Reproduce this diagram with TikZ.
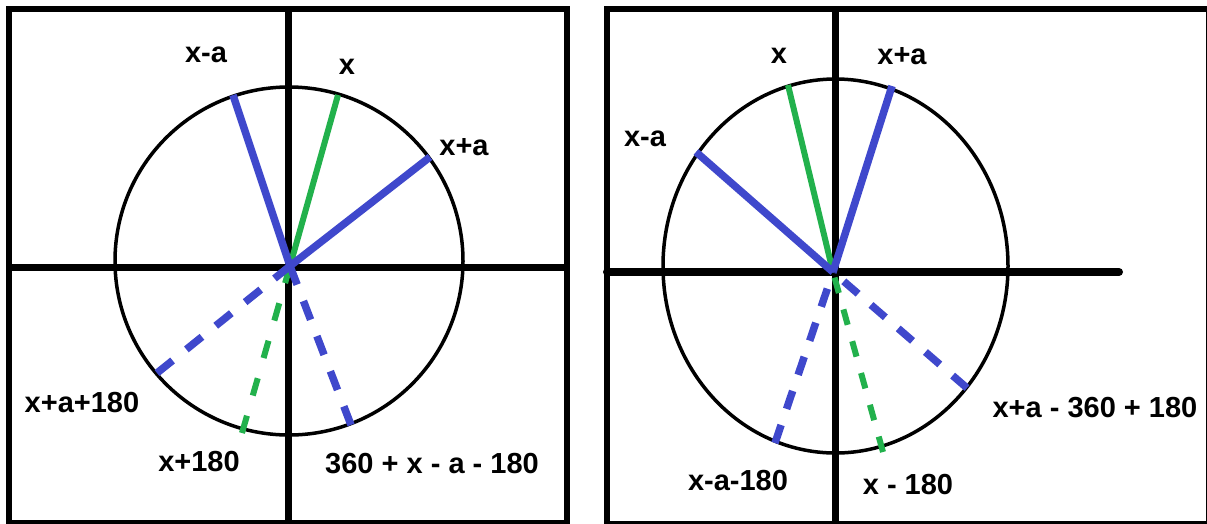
\documentclass[tikz,border=0pt]{standalone}
\usepackage{fontspec}
\setmainfont{Liberation Sans}
\definecolor{pblue}{RGB}{63,72,204}
\definecolor{pgreen}{RGB}{34,177,76}
\tikzset{
  frame/.style={line width=6pt},
  axisline/.style={line width=7pt},
  ring/.style={line width=3.5pt},
  bluesolid/.style={pblue, line width=7.5pt},
  greensolid/.style={pgreen, line width=6pt},
  bluedash/.style={pblue, line width=7.5pt, dash pattern=on 19pt off 17pt},
  greendash/.style={pgreen, line width=6pt, dash pattern=on 16pt off 17pt},
  lbl/.style={inner sep=0pt, font=\bfseries\fontsize{29}{34}\selectfont}
}
\begin{document}
\begin{tikzpicture}[x=1pt, y=-1pt]
\useasboundingbox (0,0) rectangle (1207,523);
\clip (0,0) rectangle (1207,523);
\fill[white] (0,0) rectangle (1207,523);
% ---------- left panel ----------
\draw[frame] (9,9) rectangle (567,522.5);
\draw[axisline] (288.5,9) -- (288.5,523);
\draw[axisline] (9,267) -- (567,267);
\draw[ring] (289,261) ellipse [x radius=174, y radius=174];
\coordinate (O1) at (290,266);
\coordinate (L1xma) at (233,95);
\coordinate (L1x) at (338,95);
\coordinate (L1xpa) at (430,157);
\coordinate (L1xpa180) at (157,373);
\coordinate (L1x180) at (242,433);
\coordinate (L1xma180) at (351,425);
\draw[greensolid] (O1) -- (L1x);
\draw[greendash, dash pattern=on 18pt off 21pt] (L1x180) -- (O1);
\draw[bluesolid] (O1) -- (L1xma);
\draw[bluesolid] (O1) -- (L1xpa);
\draw[bluedash, dash pattern=on 20pt off 17.7pt] (L1xpa180) -- (O1);
\draw[bluedash, dash pattern=on 20pt off 17.6pt] (L1xma180) -- (O1);
\node[lbl] (t1) at (206,55) {x-a};
\node[lbl] (t2) at (347,67) {x};
\node[lbl] (t3) at (464,147) {x+a};
\node[lbl] (t4) at (82,403) {x+a+180};
\node[lbl] (t5) at (199,462) {x+180};
\node[lbl] (t6) at (432,464) {360 + x - a - 180};
% ---------- right panel ----------
\draw[frame] (607,9) rectangle (1208.5,524);
\draw[axisline] (835.5,9) -- (835.5,523);
\draw[line width=8pt, line cap=round] (607,272) -- (1119,272);
\draw[ring] (835.5,266) ellipse [x radius=172.5, y radius=187];
\coordinate (O2) at (833,272);
\coordinate (R1x) at (788,85);
\coordinate (R1xpa) at (892,86);
\coordinate (R1xma) at (696,152);
\coordinate (R1xma180) at (775,443);
\coordinate (R1x180) at (883,452);
\coordinate (R1xpa180) at (967,388);
\draw[greensolid] (O2) -- (R1x);
\draw[greendash] (R1x180) -- (O2);
\draw[bluesolid] (O2) -- (R1xpa);
\draw[bluesolid] (O2) -- (R1xma);
\draw[bluedash] (R1xma180) -- (O2);
\draw[bluedash] (R1xpa180) -- (O2);
\node[lbl] (u1) at (779,56) {x};
\node[lbl] (u2) at (902,56) {x+a};
\node[lbl] (u3) at (645,139) {x-a};
\node[lbl] (u4) at (1095,408) {x+a - 360 + 180};
\node[lbl] (u5) at (738,481) {x-a-180};
\node[lbl] (u6) at (908,485) {x - 180};
\end{tikzpicture}
\end{document}
